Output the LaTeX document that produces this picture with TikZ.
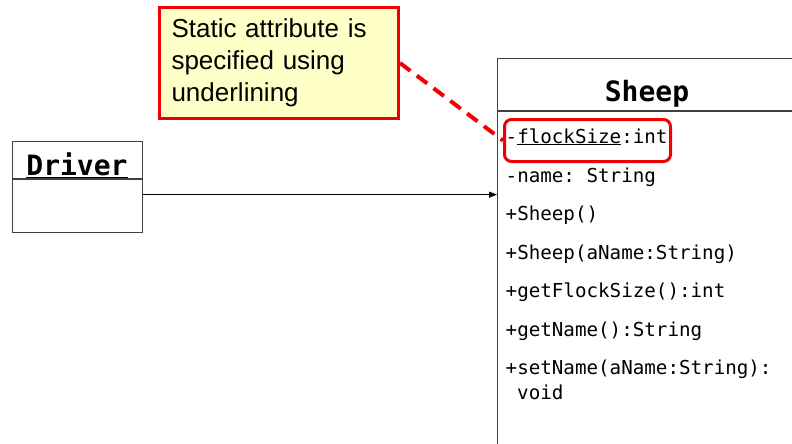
\documentclass[tikz,border=0pt]{standalone}
\usepackage{fontspec}
\setmainfont{Liberation Sans}
\setmonofont{DejaVu Sans Mono}
\usetikzlibrary{arrows.meta}
\definecolor{noteyellow}{RGB}{255,255,200}
\definecolor{notered}{RGB}{240,0,0}
\definecolor{umlgray}{RGB}{64,64,64}
\begin{document}
\begin{tikzpicture}[x=1pt,y=-1pt,
  classbox/.style={draw=umlgray, line width=1.3pt, inner sep=0pt, anchor=north west},
  divider/.style={draw=umlgray, line width=1.3pt},
  classname/.style={font=\fontsize{28}{32}\selectfont\ttfamily\bfseries, anchor=base, inner sep=0pt},
  member/.style={font=\fontsize{19.2}{24}\selectfont\ttfamily, anchor=base west, inner sep=0pt},
  notebox/.style={draw=notered, fill=noteyellow, line width=3pt, anchor=north west,
    minimum width=239pt, minimum height=111pt, inner xsep=12pt, inner ysep=0pt,
    text width=215pt, align=left, font=\fontsize{26}{32}\selectfont},
  callout/.style={draw=notered, line width=4pt, dash pattern=on 13pt off 8pt},
  highlight/.style={draw=notered, line width=3pt, rounded corners=7pt, anchor=north west,
    minimum width=166pt, minimum height=42pt, inner sep=0pt},
  assoc/.style={draw=black, line width=1pt, -{Triangle[length=8pt,width=6pt]}}
]
\useasboundingbox (0,0) rectangle (792,444);
\clip (0,0) rectangle (792,444);

% Driver class
\node[classbox, minimum width=130pt, minimum height=91pt] (driver) at (12,141) {};
\coordinate (dsplit) at (12,179);
\draw[divider] (dsplit) -- (dsplit -| driver.east);
\node[classname] (drivername) at (77,175) {\underline{Driver}};

% Sheep class (runs past the right and bottom edges)
\node[classbox, minimum width=320pt, minimum height=400pt] (sheep) at (497,58) {};
\coordinate (ssplit) at (497,111);
\draw[divider] (ssplit) -- (ssplit -| sheep.east);
\node[classname] (sheepname) at (647,101) {Sheep};

\node[member] (m1) at (505.5,143) {-\underline{flockSize}:int};
\node[member] (m2) at (505.5,182) {-name: String};
\node[member] (m3) at (505.5,220) {+Sheep()};
\node[member] (m4) at (505.5,259) {+Sheep(aName:String)};
\node[member] (m5) at (505.5,297) {+getFlockSize():int};
\node[member] (m6) at (505.5,336) {+getName():String};
\node[member] (m7) at (505.5,374) {+setName(aName:String):};
\node[member] (m8) at (517,399) {void};

% association Driver -> Sheep
\draw[assoc] ([yshift=-7.5pt]driver.east) -- ([yshift=-7.5pt]driver.east -| sheep.west);

% note on the static attribute
\node[notebox] (note) at (158,6) {Static attribute is\\specified using\\underlining};
\node[highlight] (flag) at (503,118) {};
\draw[callout] (note.east) -- (flag.west);
\end{tikzpicture}
\end{document}
